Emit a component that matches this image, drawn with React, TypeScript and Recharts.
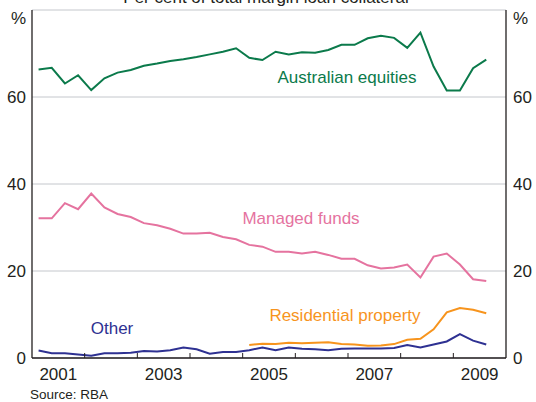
import React from 'react';
import { LineChart, Line, XAxis, YAxis, CartesianGrid } from 'recharts';

const quarters = [
  '2001Q1','2001Q2','2001Q3','2001Q4','2002Q1','2002Q2','2002Q3','2002Q4',
  '2003Q1','2003Q2','2003Q3','2003Q4','2004Q1','2004Q2','2004Q3','2004Q4',
  '2005Q1','2005Q2','2005Q3','2005Q4','2006Q1','2006Q2','2006Q3','2006Q4',
  '2007Q1','2007Q2','2007Q3','2007Q4','2008Q1','2008Q2','2008Q3','2008Q4',
  '2009Q1','2009Q2','2009Q3',
];

const australianEquities = [
  66.3, 66.7, 63.1, 65.0, 61.6, 64.3, 65.6, 66.2, 67.2, 67.7, 68.3, 68.7,
  69.2, 69.8, 70.4, 71.2, 69.0, 68.5, 70.4, 69.8, 70.3, 70.2, 70.8, 72.0,
  72.0, 73.5, 74.1, 73.6, 71.3, 74.8, 67.0, 61.5, 61.5, 66.6, 68.6,
];

const managedFunds = [
  32.1, 32.1, 35.6, 34.2, 37.8, 34.6, 33.1, 32.4, 31.0, 30.5, 29.7, 28.6,
  28.6, 28.8, 27.8, 27.3, 26.0, 25.6, 24.4, 24.4, 24.0, 24.4, 23.7, 22.8,
  22.8, 21.3, 20.6, 20.8, 21.5, 18.5, 23.3, 24.0, 21.5, 18.1, 17.7,
];

const residentialProperty: (number | null)[] = [
  null, null, null, null, null, null, null, null, null, null, null, null,
  null, null, null, null, 3.0, 3.3, 3.2, 3.5, 3.4, 3.5, 3.6, 3.2,
  3.1, 2.8, 2.9, 3.2, 4.2, 4.4, 6.6, 10.5, 11.5, 11.1, 10.3,
];

const other = [
  1.7, 1.1, 1.1, 0.8, 0.5, 1.1, 1.1, 1.2, 1.6, 1.5, 1.8, 2.4,
  2.0, 1.0, 1.4, 1.4, 1.8, 2.4, 1.8, 2.4, 2.1, 2.0, 1.8, 2.1,
  2.2, 2.2, 2.2, 2.3, 3.0, 2.4, 3.1, 3.8, 5.5, 4.0, 3.1,
];

const yTicks = [0, 20, 40, 60, 80];
const xTicks = [0, 2, 4, 6, 8, 10, 12, 14, 16, 18, 20, 22, 24, 26, 28, 30, 32, 34, 36];
const firstYear = 2001;

const data = quarters.map((q, i) => ({
  q,
  x: i + 0.5,
  eq: australianEquities[i],
  mf: managedFunds[i],
  rp: residentialProperty[i],
  ot: other[i],
}));

const FONT = 'Liberation Sans, Arial, Helvetica, sans-serif';
const DARK = '#231f20';
const GREEN = '#0b7a4b';
const PINK = '#e5739f';
const ORANGE = '#f7941d';
const NAVY = '#2e3192';

const LeftTick = (props: any) => {
  const { x, y, payload } = props;
  const isTop = payload.value === 80;
  return (
    <text x={x} y={y} dy={isTop ? 14 : 6} textAnchor="end" fontSize={17} fill={DARK} fontFamily={FONT}>
      {isTop ? '%' : payload.value}
    </text>
  );
};

const RightTick = (props: any) => {
  const { x, y, payload } = props;
  const isTop = payload.value === 80;
  return (
    <text x={x} y={y} dy={isTop ? 14 : 6} textAnchor="start" fontSize={17} fill={DARK} fontFamily={FONT}>
      {isTop ? '%' : payload.value}
    </text>
  );
};

const BottomTick = (props: any) => {
  const { x, y, payload } = props;
  const v = payload.value;
  const showLine = v % 4 === 0 && v > 0 && v < 36;
  const showLabel = v % 8 === 2;
  return (
    <g>
      {showLine && <line x1={x} x2={x} y1={y} y2={y - 5} stroke={DARK} strokeWidth={1} />}
      {showLabel && (
        <text x={x} y={y} dy={22} textAnchor="middle" fontSize={17} fill={DARK} fontFamily={FONT}>
          {firstYear + (v - 2) / 4}
        </text>
      )}
    </g>
  );
};

export default function App() {
  return (
    <div style={{ position: 'absolute', left: 0, top: 0, width: 536, height: 402, background: '#fff' }}>
      <LineChart
        width={536}
        height={402}
        data={data}
        margin={{ top: 10, right: 0, bottom: 0, left: 0 }}
      >
        <CartesianGrid yAxisId="left" horizontal vertical={false} stroke="#c4c7cc" strokeWidth={1} />
        <XAxis
          dataKey="x"
          type="number"
          domain={[0, 36]}
          ticks={xTicks}
          interval={0}
          tickSize={0}
          tickMargin={0}
          tickLine={false}
          height={44}
          axisLine={{ stroke: DARK, strokeWidth: 1.3 }}
          tick={<BottomTick />}
        />
        <XAxis
          xAxisId="top"
          orientation="top"
          dataKey="x"
          type="number"
          domain={[0, 36]}
          height={0}
          tick={false}
          tickLine={false}
          axisLine={{ stroke: DARK, strokeWidth: 1.3 }}
        />
        <YAxis
          yAxisId="left"
          domain={[0, 80]}
          ticks={yTicks}
          width={32}
          tickSize={0}
          tickMargin={6}
          tickLine={false}
          axisLine={{ stroke: DARK, strokeWidth: 1.3 }}
          tick={<LeftTick />}
          interval={0}
        />
        <YAxis
          yAxisId="right"
          orientation="right"
          domain={[0, 80]}
          ticks={yTicks}
          width={30}
          tickSize={0}
          tickMargin={7}
          tickLine={false}
          axisLine={{ stroke: DARK, strokeWidth: 1.3 }}
          tick={<RightTick />}
          interval={0}
        />
        <Line xAxisId="top" yAxisId="right" type="linear" dataKey="eq" stroke="none" strokeWidth={0} dot={false} activeDot={false} legendType="none" isAnimationActive={false} />
        <Line yAxisId="left" type="linear" dataKey="eq" stroke={GREEN} strokeWidth={2} dot={false} isAnimationActive={false} />
        <Line yAxisId="left" type="linear" dataKey="mf" stroke={PINK} strokeWidth={2} dot={false} isAnimationActive={false} />
        <Line yAxisId="left" type="linear" dataKey="rp" stroke={ORANGE} strokeWidth={2} dot={false} isAnimationActive={false} />
        <Line yAxisId="left" type="linear" dataKey="ot" stroke={NAVY} strokeWidth={2} dot={false} isAnimationActive={false} />
      </LineChart>
      <svg
        width={536}
        height={402}
        style={{ position: 'absolute', left: 0, top: 0, pointerEvents: 'none' }}
        fontFamily={FONT}
      >
        <text x={266} y={3} textAnchor="middle" fontSize={17} fill={DARK}>Per cent of total margin loan collateral</text>
        <text x={347} y={83} textAnchor="middle" fontSize={17} fill={GREEN}>Australian equities</text>
        <text x={301} y={224} textAnchor="middle" fontSize={17} fill={PINK}>Managed funds</text>
        <text x={345} y={321} textAnchor="middle" fontSize={17} fill={ORANGE}>Residential property</text>
        <text x={112} y={334} textAnchor="middle" fontSize={17} fill={NAVY}>Other</text>
        <text x={30} y={399} textAnchor="start" fontSize={13.5} fill={DARK}>Source: RBA</text>
      </svg>
    </div>
  );
}
